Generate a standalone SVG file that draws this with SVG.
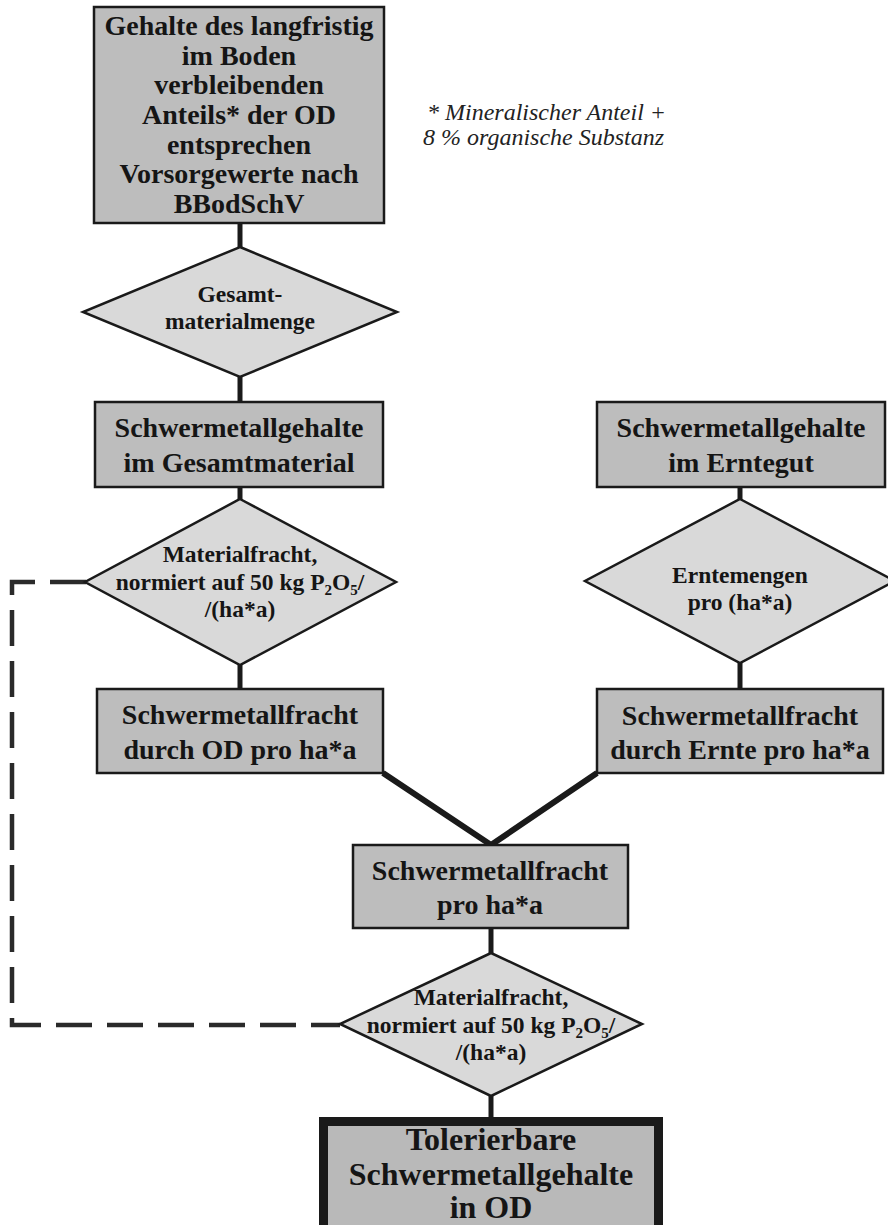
<svg xmlns="http://www.w3.org/2000/svg" width="888" height="1225" viewBox="0 0 888 1225">
<style>
.box{fill:#bdbdbd;stroke:#1a1a1a;stroke-width:2.5}
.dia{fill:#d9d9d9;stroke:#1a1a1a;stroke-width:2.5}
.final{fill:#b9b9b9;stroke:#1a1a1a;stroke-width:9}
.t{font-family:"Liberation Serif","Times New Roman",serif;font-weight:bold;fill:#151515;text-anchor:middle}
.b{font-size:28px}
.d{font-size:23.5px}
.f{font-size:32px}
.note{font-family:"Liberation Serif","Times New Roman",serif;font-style:italic;font-size:24px;fill:#222}
.con{stroke:#1a1a1a;stroke-width:5;fill:none}
.v{stroke:#1a1a1a;stroke-width:6;fill:none}
.dash{stroke:#2a2a2a;stroke-width:4.5;fill:none;stroke-dasharray:36 15}
</style>
<rect width="888" height="1225" fill="#ffffff"/>
<g id="connectors">
<line class="con" x1="240" y1="222" x2="240" y2="248"/>
<line class="con" x1="240" y1="376" x2="240" y2="403"/>
<line class="con" x1="240" y1="486" x2="240" y2="500"/>
<line class="con" x1="240" y1="664" x2="240" y2="690"/>
<line class="con" x1="740" y1="486" x2="740" y2="500"/>
<line class="con" x1="740" y1="662" x2="740" y2="690"/>
<polyline class="v" points="383,773 491,845 597,773"/>
<line class="con" x1="491" y1="927" x2="491" y2="954"/>
<line class="con" x1="491" y1="1095" x2="491" y2="1118"/>
<path class="dash" d="M86 582 H12 V1025 H340"/>
</g>
<g id="n1">
<rect class="box" x="94" y="7" width="290" height="216"/>
<text class="t b" x="239"><tspan x="239" y="35">Gehalte des langfristig</tspan><tspan x="239" y="64.7">im Boden</tspan><tspan x="239" y="94.3">verbleibenden</tspan><tspan x="239" y="124">Anteils* der OD</tspan><tspan x="239" y="153.7">entsprechen</tspan><tspan x="239" y="183.3">Vorsorgewerte nach</tspan><tspan x="239" y="213">BBodSchV</tspan></text>
</g>
<g id="note">
<text class="note"><tspan x="427" y="120">* Mineralischer Anteil +</tspan><tspan x="423" y="145">8 % organische Substanz</tspan></text>
</g>
<g id="d1">
<polygon class="dia" points="240,247 397,312 240,377 83,312"/>
<text class="t d"><tspan x="240" y="302">Gesamt-</tspan><tspan x="240" y="329">materialmenge</tspan></text>
</g>
<g id="n2">
<rect class="box" x="95" y="402" width="288" height="85"/>
<text class="t b"><tspan x="239" y="437">Schwermetallgehalte</tspan><tspan x="239" y="472">im Gesamtmaterial</tspan></text>
</g>
<g id="n3">
<rect class="box" x="597" y="402" width="288" height="85"/>
<text class="t b"><tspan x="741" y="437">Schwermetallgehalte</tspan><tspan x="741" y="472">im Erntegut</tspan></text>
</g>
<g id="d2">
<polygon class="dia" points="240,499 396,582 240,665 85,582"/>
<text class="t d"><tspan x="240" y="562">Materialfracht,</tspan><tspan x="240" y="590">normiert auf 50 kg P<tspan font-size="15" dy="5">2</tspan><tspan dy="-5">O</tspan><tspan font-size="15" dy="5">5</tspan><tspan dy="-5">/</tspan></tspan><tspan x="240" y="617">/(ha*a)</tspan></text>
</g>
<g id="d3">
<polygon class="dia" points="740,499 895,581 740,663 585,581"/>
<text class="t d"><tspan x="740" y="583">Erntemengen</tspan><tspan x="740" y="610">pro (ha*a)</tspan></text>
</g>
<g id="n4">
<rect class="box" x="97" y="689" width="286" height="84"/>
<text class="t b"><tspan x="240" y="724">Schwermetallfracht</tspan><tspan x="240" y="759">durch OD pro ha*a</tspan></text>
</g>
<g id="n5">
<rect class="box" x="597" y="689" width="286" height="84"/>
<text class="t b"><tspan x="740" y="725">Schwermetallfracht</tspan><tspan x="740" y="759">durch Ernte pro ha*a</tspan></text>
</g>
<g id="n6">
<rect class="box" x="353" y="845" width="275" height="83"/>
<text class="t b"><tspan x="490" y="880">Schwermetallfracht</tspan><tspan x="490" y="914">pro ha*a</tspan></text>
</g>
<g id="d4">
<polygon class="dia" points="491,953 642,1024 491,1096 340,1024"/>
<text class="t d"><tspan x="491" y="1005">Materialfracht,</tspan><tspan x="491" y="1033">normiert auf 50 kg P<tspan font-size="15" dy="5">2</tspan><tspan dy="-5">O</tspan><tspan font-size="15" dy="5">5</tspan><tspan dy="-5">/</tspan></tspan><tspan x="491" y="1060">/(ha*a)</tspan></text>
</g>
<g id="n7">
<rect class="final" x="323.5" y="1121.5" width="335" height="130"/>
<text class="t f"><tspan x="491" y="1150">Tolerierbare</tspan><tspan x="491" y="1185">Schwermetallgehalte</tspan><tspan x="491" y="1218">in OD</tspan></text>
</g>
</svg>
